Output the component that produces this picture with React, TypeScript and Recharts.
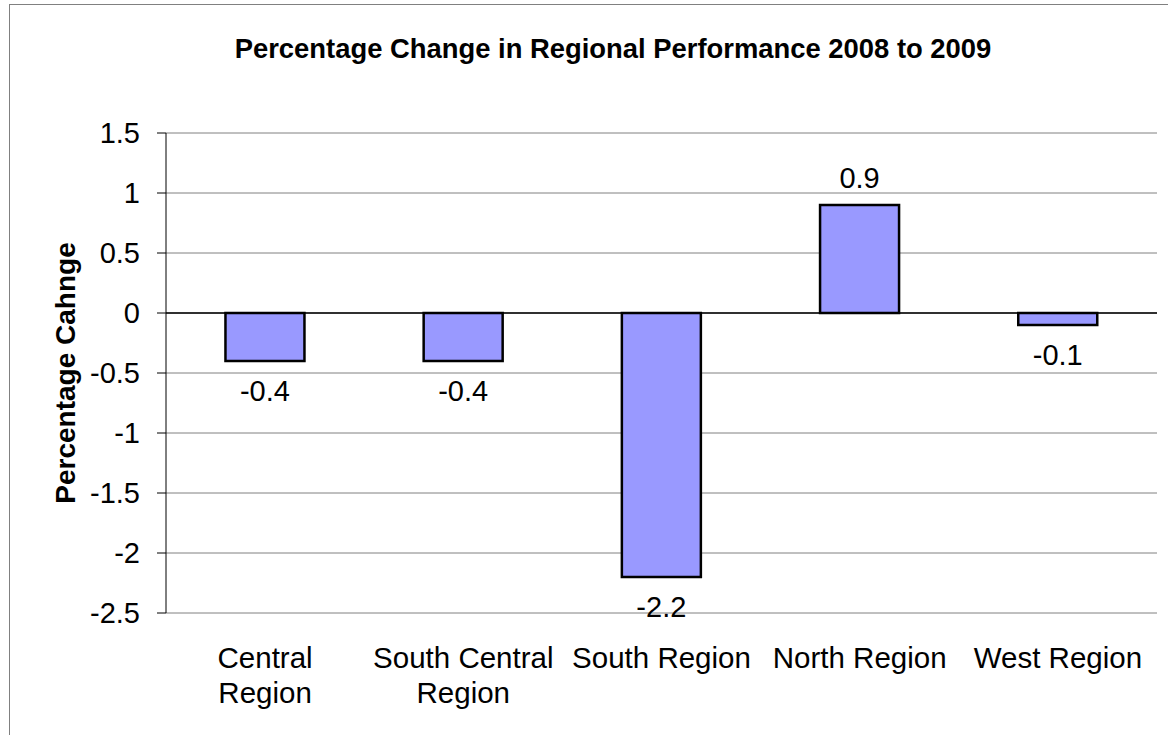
import {
  BarChart,
  Bar,
  XAxis,
  YAxis,
  CartesianGrid,
  ReferenceLine,
  LabelList,
} from "recharts";

const FONT = "'Liberation Sans', Arial, sans-serif";

const REGIONS = [
  "Central Region",
  "South Central Region",
  "South Region",
  "North Region",
  "West Region",
];
const TICK_LINES = [
  ["Central", "Region"],
  ["South Central", "Region"],
  ["South Region"],
  ["North Region"],
  ["West Region"],
];
const CHANGE = [-0.4, -0.4, -2.2, 0.9, -0.1];
const Y_TICKS = [-2.5, -2, -1.5, -1, -0.5, 0, 0.5, 1, 1.5];

const data = REGIONS.map((region, i) => ({ region, change: CHANGE[i] }));

const RegionTick = (props: any) => {
  const { x, y, index } = props;
  const lines = TICK_LINES[index] || [String(props.payload.value)];
  return (
    <text
      x={x}
      y={y}
      textAnchor="middle"
      fontFamily={FONT}
      fontSize={29.5}
      fill="#000"
    >
      {lines.map((line, i) => (
        <tspan key={i} x={x} y={y + 55 + i * 35}>
          {line}
        </tspan>
      ))}
    </text>
  );
};

const ValueLabel = (props: any) => {
  const { x, y, width, height, value } = props;
  const top = Math.min(y, y + height);
  const bottom = Math.max(y, y + height);
  const ty = value >= 0 ? top - 17 : bottom + 40;
  return (
    <text
      x={x + width / 2}
      y={ty}
      textAnchor="middle"
      fontFamily={FONT}
      fontSize={29}
      fill="#000"
    >
      {value}
    </text>
  );
};

const AxisTitle = (props: any) => {
  const { viewBox } = props;
  const cx = 55;
  const cy = viewBox.y + viewBox.height / 2;
  return (
    <text
      x={cx}
      y={cy}
      transform={`rotate(-90, ${cx}, ${cy})`}
      textAnchor="middle"
      dominantBaseline="central"
      fontFamily={FONT}
      fontSize={28}
      fontWeight="bold"
      fill="#000"
    >
      Percentage Cahnge
    </text>
  );
};

export default function App() {
  return (
    <div
      style={{
        position: "absolute",
        left: 8,
        top: 4,
        width: 1160,
        height: 731,
        overflow: "hidden",
        background: "#fff",
      }}
    >
      <div
        style={{
          position: "absolute",
          left: 1,
          top: 0,
          width: 1240,
          height: 800,
          border: "1px solid #808080",
        }}
      >
        <svg
          width={1150}
          height={80}
          style={{ position: "absolute", left: 0, top: 0 }}
        >
          <text
            x={603}
            y={53}
            textAnchor="middle"
            fontFamily={FONT}
            fontSize={27.4}
            fontWeight="bold"
            fill="#000"
          >
            Percentage Change in Regional Performance 2008 to 2009
          </text>
        </svg>
        <BarChart
          width={1150}
          height={726}
          data={data}
          margin={{ top: 128, right: 3, left: 0, bottom: 28 }}
          barCategoryGap="30%"
          style={{ position: "absolute", left: 0, top: 0 }}
        >
          <CartesianGrid vertical={false} stroke="#808080" />
          <XAxis
            dataKey="region"
            axisLine={false}
            tickLine={false}
            tickSize={0}
            tickMargin={0}
            height={90}
            interval={0}
            tick={<RegionTick />}
          />
          <YAxis
            domain={[-2.5, 1.5]}
            ticks={Y_TICKS}
            width={156}
            tickSize={9}
            tickMargin={17}
            axisLine={{ stroke: "#000" }}
            tickLine={{ stroke: "#000" }}
            tick={{ fontFamily: FONT, fontSize: 29, fill: "#000" }}
            label={<AxisTitle />}
          />
          <YAxis
            yAxisId="frame"
            orientation="right"
            domain={[-2.5, 1.5]}
            width={0}
            tick={false}
            tickLine={false}
            axisLine={{ stroke: "#808080", strokeWidth: 2 }}
          />
          <ReferenceLine y={0} stroke="#000" strokeWidth={1.5} />
          <Bar
            dataKey="change"
            fill="#9999FF"
            stroke="#000"
            strokeWidth={2.5}
            isAnimationActive={false}
          >
            <LabelList dataKey="change" content={<ValueLabel />} />
          </Bar>
        </BarChart>
      </div>
    </div>
  );
}
